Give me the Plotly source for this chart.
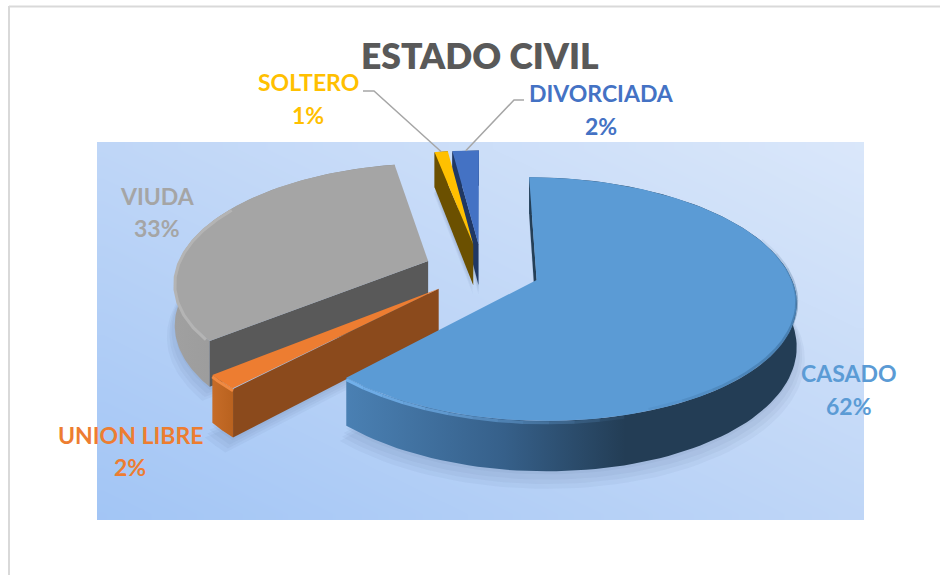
import numpy as np
import plotly.graph_objects as go

# values, clockwise from 12 o'clock
categories = ["CASADO", "UNION LIBRE", "VIUDA", "SOLTERO", "DIVORCIADA"]
percent = [62, 2, 33, 1, 2]

top_colors = ["#5B9BD5", "#ED7D31", "#A5A5A5", "#FFC000", "#4472C4"]
cut_colors = ["#243F57", "#8B4A1C", "#595959", "#6B5000", "#203864"]
wall_scales = [
    [[0, "#4A80B3"], [0.35, "#36608A"], [0.62, "#233D55"], [1, "#233D55"]],
    [[0, "#C66C28"], [1, "#B9621F"]],
    [[0, "#A0A0A0"], [1, "#8C8C8C"]],
    [[0, "#6B5000"], [1, "#6B5000"]],
    [[0, "#203864"], [1, "#203864"]],
]

# label centres in page pixels
name_xy = [(849, 373), (130, 435), (157, 196), (308, 82), (601, 93)]
value_xy = [(849, 406), (130, 467), (157, 228), (308, 115), (601, 126)]

# fake 3D camera
CX, CY = 482, 270
SX, SY, DEPTH, PERSP = 252, 115.7, 42, 0.155
EXPLODE = 0.23
PANEL = (97, 142, 864, 520)


def project(x, y, z=0.0):
    w = 1 + PERSP * y
    return CX + SX * x / w, CY - (SY * y + DEPTH * z) / w


def polar(deg, offset, r=1.0):
    a = np.radians(deg)
    return offset[0] + r * np.sin(a), offset[1] + r * np.cos(a)


def poly(xs, ys, color=None, gradient=None):
    kw = dict(fillcolor=color) if color else dict(fillgradient=gradient)
    return go.Scatter(x=list(xs) + [xs[0]], y=list(ys) + [ys[0]], mode="lines", fill="toself",
                      line=dict(width=0), hoverinfo="skip", showlegend=False, **kw)


def rim_line(i, lo, hi, color, z=-0.04, width=3, alpha=1.0):
    rx, ry = polar(np.linspace(lo, hi, 12), offsets[i])
    px, py = project(rx, ry, z)
    return go.Scatter(x=px, y=py, mode="lines", line=dict(color=color, width=width), opacity=alpha,
                      hoverinfo="skip", showlegend=False)


fig = go.Figure()

# panel gradient, light top right to darker bottom left
gx = np.linspace(PANEL[0], PANEL[2], 61)
gy = np.linspace(PANEL[1], PANEL[3], 31)
u = (gx[:-1] + gx[1:] - 2 * PANEL[0]) / 2 / (PANEL[2] - PANEL[0])
v = (gy[:-1] + gy[1:] - 2 * PANEL[1]) / 2 / (PANEL[3] - PANEL[1])
fig.add_trace(go.Heatmap(x=gx, y=gy, z=(u[None, :] + (1 - v)[:, None]) / 2, zmin=0, zmax=1,
                         colorscale=[[0, "#A2C5F5"], [0.5, "#BFD6F7"], [1, "#DAE7FA"]],
                         showscale=False, hoverinfo="skip", zsmooth="best"))

starts = np.cumsum([0] + percent[:-1]) * 3.6
stops = np.cumsum(percent) * 3.6
mids = np.radians((starts + stops) / 2)
offsets = [(EXPLODE * np.sin(m), EXPLODE * np.cos(m)) for m in mids]
rims = {}

for i in [4, 3, 2, 1, 0]:
    off = offsets[i]
    th = np.linspace(starts[i], stops[i], 120)
    rx, ry = polar(th, off)
    rims[i] = (rx, ry)

    # soft shadow below the slice
    for grow, drop in [(1.03, 1.24), (1.02, 1.18), (1.012, 1.12), (1.0, 1.06)]:
        sx_, sy_ = polar(th, off, grow)
        px, py = project(np.r_[off[0], sx_], np.r_[off[1], sy_], -drop)
        fig.add_trace(poly(px, py, color="rgba(50,70,110,0.05)"))

    # outer wall
    tx, ty = project(rx, ry, 0)
    bx, by = project(rx, ry, -1)
    grad = dict(type="horizontal", colorscale=wall_scales[i], start=float(tx.min()), stop=float(tx.max()))
    fig.add_trace(poly(np.r_[tx, bx[::-1]], np.r_[ty, by[::-1]], gradient=grad))

    # cut faces, only the ones turned to the viewer
    faces = [starts[i]] + ([stops[i]] if np.sin(np.radians(stops[i])) > 0 else [])
    for deg in faces:
        ex, ey = polar(deg, off)
        px, py = project(np.array([off[0], ex, ex, off[0]]), np.array([off[1], ey, ey, off[1]]),
                         np.array([0, 0, -1, -1]))
        fig.add_trace(poly(px, py, color=cut_colors[i]))

    # top face
    px, py = project(np.r_[off[0], rx], np.r_[off[1], ry], 0)
    fig.add_trace(poly(px, py, color=top_colors[i]))

    # bevel on the big slice and its neighbours, faded in short steps
    if i == 0:
        ends = np.linspace(165, 223.2, 13)
        for lo, hi, a in zip(ends[:-1], ends[1:], np.linspace(0.08, 0.95, 12)):
            fig.add_trace(rim_line(0, lo, hi, "#74B3EE", alpha=a))
        ends = np.linspace(70, 160, 13)
        for lo, hi, a in zip(ends[:-1], ends[1:], np.sin(np.linspace(0.2, 2.9, 12)) * 0.4):
            fig.add_trace(rim_line(0, lo, hi, "#2F5C85", z=0.03, alpha=a))
    if i == 1:
        fig.add_trace(rim_line(1, 223.2, 230.4, "#F08A42"))
    if i == 2:
        fig.add_trace(rim_line(2, 232, 300, "#B4B4B4"))

# leader lines, from the label to the outer edge of the slice
for i, pts in [(3, [(363, 91), (374, 91)]), (4, [(524, 100), (514, 100)])]:
    ex, ey = project(rims[i][0][60], rims[i][1][60], 0)
    fig.add_trace(go.Scatter(x=[pts[0][0], pts[1][0], ex], y=[pts[0][1], pts[1][1], ey], mode="lines",
                             line=dict(color="#A6A6A6", width=1.5), hoverinfo="skip", showlegend=False))

annotations = [dict(text="ESTADO CIVIL", x=480, y=55, xref="x", yref="y", showarrow=False,
                    font=dict(family="Lato", size=35.5, color="#595959", weight=800))]
for i, name in enumerate(categories):
    for txt, xy in ((name, name_xy[i]), (f"{percent[i]}%", value_xy[i])):
        annotations.append(dict(text=txt, x=xy[0], y=xy[1], xref="x", yref="y", showarrow=False,
                                font=dict(family="Lato", size=23, color=top_colors[i], weight="bold")))

fig.update_layout(
    width=940, height=575, autosize=False,
    margin=dict(l=0, r=0, t=0, b=0),
    paper_bgcolor="white", plot_bgcolor="white",
    xaxis=dict(range=[0, 940], visible=False, fixedrange=True),
    yaxis=dict(range=[575, 0], visible=False, fixedrange=True),
    annotations=annotations,
    shapes=[dict(type="line", x0=9, x1=9, y0=6, y1=575, line=dict(color="#D9D9D9", width=2)),
            dict(type="line", x0=9, x1=940, y0=6.5, y1=6.5, line=dict(color="#D9D9D9", width=2))],
)

fig.write_html("out.html", config=dict(displayModeBar=False),
               post_script="document.body.style.margin='0';document.body.style.overflow='hidden';")
